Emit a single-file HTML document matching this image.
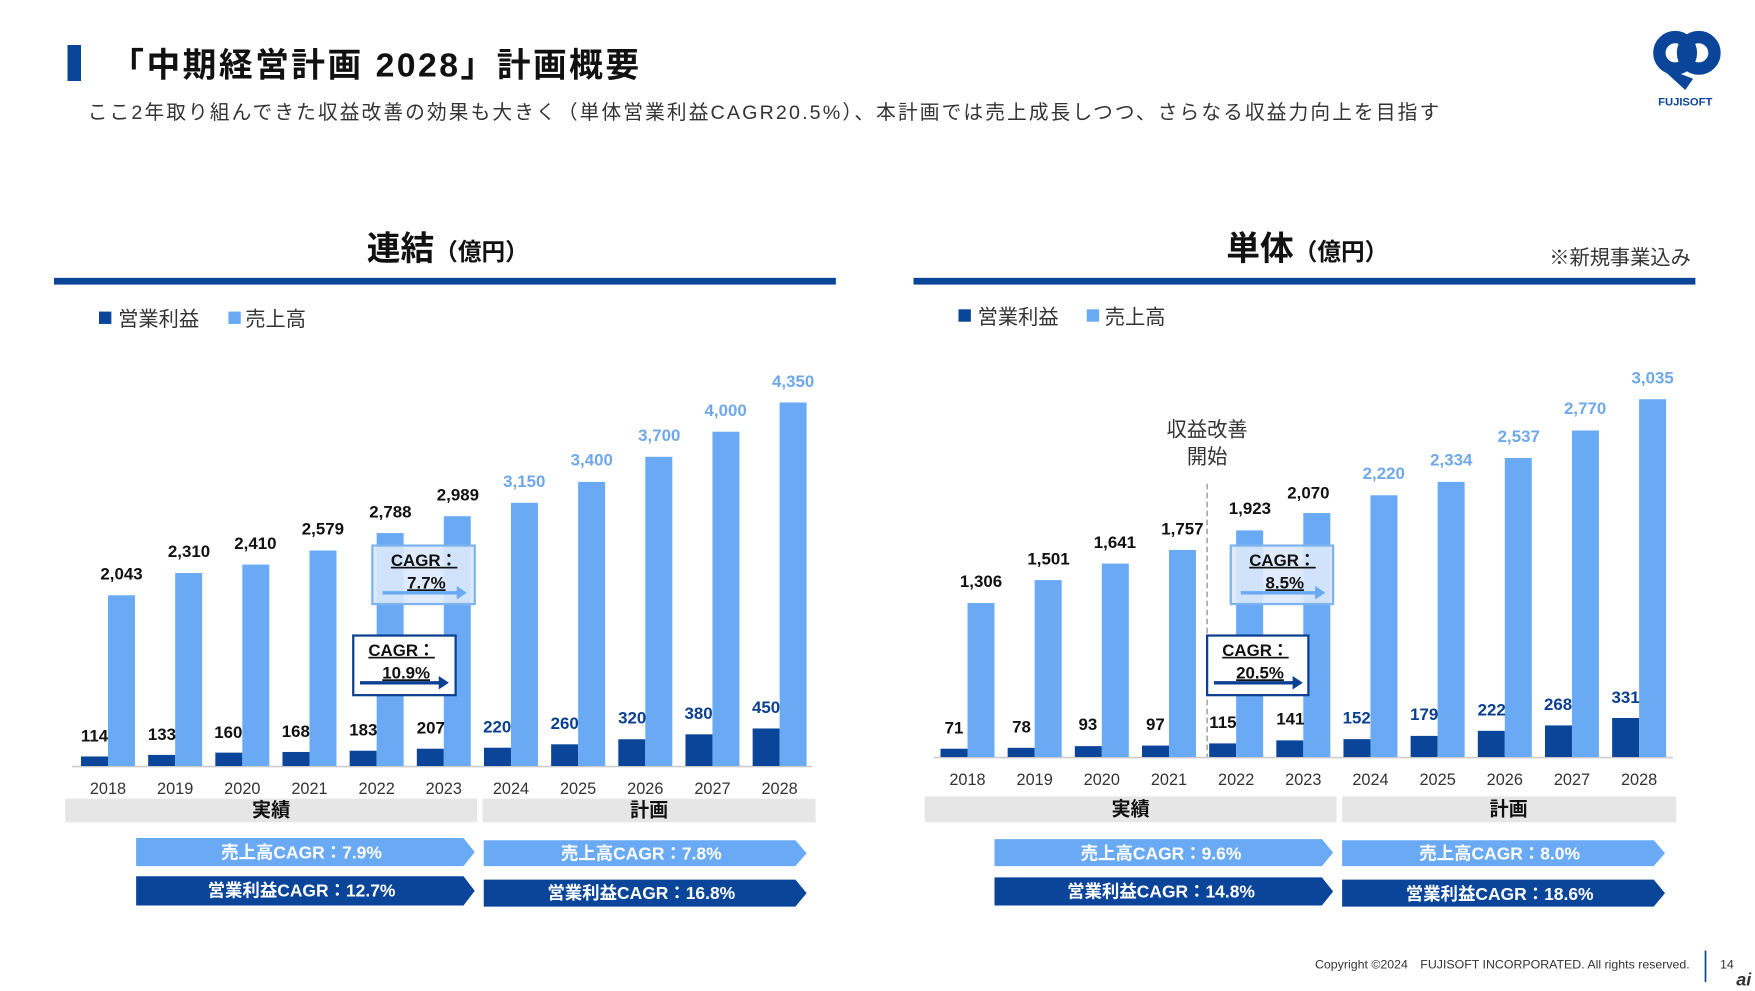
<!DOCTYPE html>
<html><head><meta charset="utf-8"><style>
html,body{margin:0;padding:0;background:#fff;}
svg{display:block;}
text{font-family:"Liberation Sans","Noto Sans CJK JP",sans-serif;}
.v{font-size:15px;font-weight:bold;text-anchor:middle;}
.k{fill:#111;} .lb{fill:#6fa8ea;} .db{fill:#0b3f8f;}
.yr{font-size:14.5px;fill:#333;text-anchor:middle;}
.L{fill:#6aaaf5;} .D{fill:#0b4599;}
.at{font-size:15.5px;font-weight:bold;fill:#fff;text-anchor:middle;}
</style></head><body>
<svg width="1755" height="991" viewBox="0 0 1560 881" preserveAspectRatio="none">
<rect x="0" y="0" width="1560" height="881" fill="#fff"/>
<rect x="60" y="40" width="12" height="32" fill="#0b4599"/>
<text x="98" y="68" font-size="30" font-weight="bold" fill="#111" letter-spacing="2.2">「中期経営計画 2028」計画概要</text>
<text x="78" y="106" font-size="17.5" fill="#333" letter-spacing="1.9">ここ2年取り組んできた収益改善の効果も大きく（単体営業利益CAGR20.5%）、本計画では売上成長しつつ、さらなる収益力向上を目指す</text>
<g fill="none" stroke="#0b4599" stroke-width="11">
<circle cx="1489" cy="47" r="14"/><circle cx="1510" cy="47" r="14"/>
</g>
<path d="M1474 58 L1498 80 L1505 70 Z" fill="#0b4599"/>
<text x="1498" y="94" font-size="10" font-weight="bold" fill="#0b4599" text-anchor="middle">FUJISOFT</text>

<text x="398" y="231" font-size="30" font-weight="bold" fill="#111" text-anchor="middle">連結<tspan font-size="21">（億円）</tspan></text>
<rect x="48" y="247" width="695" height="6" fill="#0b4599"/>
<rect x="88" y="277" width="11" height="11" class="D"/><text x="105" y="290" font-size="18" fill="#333">営業利益</text>
<rect x="203" y="277" width="11" height="11" class="L"/><text x="218" y="290" font-size="18" fill="#333">売上高</text>

<line x1="64" y1="681.5" x2="722" y2="681.5" stroke="#ccc" stroke-width="1.5"/>
<g>
<rect x="72" y="672.5" width="24" height="8.5" class="D"/><rect x="96" y="529.2" width="24" height="151.8" class="L"/>
<rect x="131.7" y="671.1" width="24" height="9.9" class="D"/><rect x="155.7" y="509.4" width="24" height="171.6" class="L"/>
<rect x="191.4" y="669.1" width="24" height="11.9" class="D"/><rect x="215.4" y="501.9" width="24" height="179.1" class="L"/>
<rect x="251.1" y="668.5" width="24" height="12.5" class="D"/><rect x="275.1" y="489.4" width="24" height="191.6" class="L"/>
<rect x="310.8" y="667.4" width="24" height="13.6" class="D"/><rect x="334.8" y="473.9" width="24" height="207.1" class="L"/>
<rect x="370.5" y="665.6" width="24" height="15.4" class="D"/><rect x="394.5" y="458.9" width="24" height="222.1" class="L"/>
<rect x="430.2" y="664.7" width="24" height="16.3" class="D"/><rect x="454.2" y="447" width="24" height="234" class="L"/>
<rect x="489.9" y="661.7" width="24" height="19.3" class="D"/><rect x="513.9" y="428.4" width="24" height="252.6" class="L"/>
<rect x="549.6" y="657.2" width="24" height="23.8" class="D"/><rect x="573.6" y="406.1" width="24" height="274.9" class="L"/>
<rect x="609.3" y="652.8" width="24" height="28.2" class="D"/><rect x="633.3" y="383.8" width="24" height="297.2" class="L"/>
<rect x="669" y="647.6" width="24" height="33.4" class="D"/><rect x="693" y="357.8" width="24" height="323.2" class="L"/>
</g>
<g class="v">
<text x="108" y="515" class="k">2,043</text><text x="84" y="659" class="k">114</text>
<text x="168" y="495" class="k">2,310</text><text x="144" y="658" class="k">133</text>
<text x="227" y="488" class="k">2,410</text><text x="203" y="656" class="k">160</text>
<text x="287" y="475" class="k">2,579</text><text x="263" y="655" class="k">168</text>
<text x="347" y="460" class="k">2,788</text><text x="323" y="654" class="k">183</text>
<text x="407" y="445" class="k">2,989</text><text x="383" y="652" class="k">207</text>
<text x="466" y="433" class="lb">3,150</text><text x="442" y="651" class="db">220</text>
<text x="526" y="414" class="lb">3,400</text><text x="502" y="648" class="db">260</text>
<text x="586" y="392" class="lb">3,700</text><text x="562" y="643" class="db">320</text>
<text x="645" y="370" class="lb">4,000</text><text x="621" y="639" class="db">380</text>
<text x="705" y="344" class="lb">4,350</text><text x="681" y="634" class="db">450</text>
</g>
<g class="yr">
<text x="96" y="706">2018</text><text x="155.7" y="706">2019</text><text x="215.4" y="706">2020</text><text x="275.1" y="706">2021</text><text x="334.8" y="706">2022</text><text x="394.5" y="706">2023</text><text x="454.2" y="706">2024</text><text x="513.9" y="706">2025</text><text x="573.6" y="706">2026</text><text x="633.3" y="706">2027</text><text x="693" y="706">2028</text>
</g>
<rect x="331" y="485" width="91" height="52" fill="#dbe9fb" fill-opacity="0.9" stroke="#7fb3f0" stroke-width="2"/>
<text x="377" y="503" font-size="15" font-weight="bold" fill="#111" text-anchor="middle" text-decoration="underline">CAGR：</text>
<text x="379" y="523" font-size="15" font-weight="bold" fill="#111" text-anchor="middle" text-decoration="underline">7.7%</text>
<line x1="340" y1="527" x2="408" y2="527" stroke="#6aaaf5" stroke-width="3"/><path d="M406 521 L415 527 L406 533 Z" fill="#6aaaf5"/>
<rect x="314" y="565" width="91" height="53" fill="#fff" stroke="#0b3f8f" stroke-width="2"/>
<text x="357" y="583" font-size="15" font-weight="bold" fill="#111" text-anchor="middle" text-decoration="underline">CAGR：</text>
<text x="361" y="603" font-size="15" font-weight="bold" fill="#111" text-anchor="middle" text-decoration="underline">10.9%</text>
<line x1="320" y1="607" x2="392" y2="607" stroke="#0b3f8f" stroke-width="3"/><path d="M390 601 L399 607 L390 613 Z" fill="#0b3f8f"/>
<rect x="58" y="710" width="366" height="21" fill="#e6e6e6"/><text x="241" y="726" font-size="17" font-weight="bold" text-anchor="middle" fill="#111">実績</text>
<rect x="429" y="710" width="296" height="21" fill="#e6e6e6"/><text x="577" y="726" font-size="17" font-weight="bold" text-anchor="middle" fill="#111">計画</text>
<polygon points="121,745 412,745 422,757.5 412,770 121,770" fill="#6aaaf5"/><text x="268" y="763" class="at">売上高CAGR：7.9%</text>
<polygon points="121,779 412,779 422,792 412,805 121,805" fill="#0b4599"/><text x="268" y="797" class="at">営業利益CAGR：12.7%</text>
<polygon points="430,747 707,747 717,758.5 707,770 430,770" fill="#6aaaf5"/><text x="570" y="764" class="at">売上高CAGR：7.8%</text>
<polygon points="430,782 707,782 717,794 707,806 430,806" fill="#0b4599"/><text x="570" y="799" class="at">営業利益CAGR：16.8%</text>

<text x="1162" y="231" font-size="30" font-weight="bold" fill="#111" text-anchor="middle">単体<tspan font-size="21">（億円）</tspan></text>
<text x="1503" y="235" font-size="18" fill="#333" text-anchor="end">※新規事業込み</text>
<rect x="812" y="247" width="695" height="6" fill="#0b4599"/>
<rect x="852" y="275" width="11" height="11" class="D"/><text x="869" y="288" font-size="18" fill="#333">営業利益</text>
<rect x="966" y="275" width="11" height="11" class="L"/><text x="982" y="288" font-size="18" fill="#333">売上高</text>
<line x1="1073" y1="430" x2="1073" y2="673" stroke="#aaa" stroke-width="1.5" stroke-dasharray="5,3"/>
<text x="1073" y="388" font-size="18" fill="#333" text-anchor="middle">収益改善</text>
<text x="1073" y="412" font-size="18" fill="#333" text-anchor="middle">開始</text>
<line x1="830" y1="673.5" x2="1487" y2="673.5" stroke="#ccc" stroke-width="1.5"/>
<g>
<rect x="836" y="665.6" width="24" height="7.4" class="D"/><rect x="860" y="536.1" width="24" height="136.9" class="L"/>
<rect x="895.7" y="664.8" width="24" height="8.2" class="D"/><rect x="919.7" y="515.7" width="24" height="157.3" class="L"/>
<rect x="955.4" y="663.3" width="24" height="9.7" class="D"/><rect x="979.4" y="501" width="24" height="172" class="L"/>
<rect x="1015.1" y="662.8" width="24" height="10.2" class="D"/><rect x="1039.1" y="488.9" width="24" height="184.1" class="L"/>
<rect x="1074.8" y="660.9" width="24" height="12.1" class="D"/><rect x="1098.8" y="471.5" width="24" height="201.5" class="L"/>
<rect x="1134.5" y="658.2" width="24" height="14.8" class="D"/><rect x="1158.5" y="456.1" width="24" height="216.9" class="L"/>
<rect x="1194.2" y="657.1" width="24" height="15.9" class="D"/><rect x="1218.2" y="440.3" width="24" height="232.7" class="L"/>
<rect x="1253.9" y="654.2" width="24" height="18.8" class="D"/><rect x="1277.9" y="428.4" width="24" height="244.6" class="L"/>
<rect x="1313.6" y="649.7" width="24" height="23.3" class="D"/><rect x="1337.6" y="407.1" width="24" height="265.9" class="L"/>
<rect x="1373.3" y="644.9" width="24" height="28.1" class="D"/><rect x="1397.3" y="382.7" width="24" height="290.3" class="L"/>
<rect x="1433" y="638.3" width="24" height="34.7" class="D"/><rect x="1457" y="354.9" width="24" height="318.1" class="L"/>
</g>
<g class="v">
<text x="872" y="522" class="k">1,306</text><text x="848" y="652" class="k">71</text>
<text x="932" y="502" class="k">1,501</text><text x="908" y="651" class="k">78</text>
<text x="991" y="487" class="k">1,641</text><text x="967" y="649" class="k">93</text>
<text x="1051" y="475" class="k">1,757</text><text x="1027" y="649" class="k">97</text>
<text x="1111" y="457" class="k">1,923</text><text x="1087" y="647" class="k">115</text>
<text x="1163" y="443" class="k">2,070</text><text x="1147" y="644" class="k">141</text>
<text x="1230" y="426" class="lb">2,220</text><text x="1206" y="643" class="db">152</text>
<text x="1290" y="414" class="lb">2,334</text><text x="1266" y="640" class="db">179</text>
<text x="1350" y="393" class="lb">2,537</text><text x="1326" y="636" class="db">222</text>
<text x="1409" y="368" class="lb">2,770</text><text x="1385" y="631" class="db">268</text>
<text x="1469" y="341" class="lb">3,035</text><text x="1445" y="625" class="db">331</text>
</g>
<g class="yr">
<text x="860" y="698">2018</text><text x="919.7" y="698">2019</text><text x="979.4" y="698">2020</text><text x="1039.1" y="698">2021</text><text x="1098.8" y="698">2022</text><text x="1158.5" y="698">2023</text><text x="1218.2" y="698">2024</text><text x="1277.9" y="698">2025</text><text x="1337.6" y="698">2026</text><text x="1397.3" y="698">2027</text><text x="1457" y="698">2028</text>
</g>
<rect x="1094" y="485" width="91" height="52" fill="#dbe9fb" fill-opacity="0.9" stroke="#7fb3f0" stroke-width="2"/>
<text x="1140" y="503" font-size="15" font-weight="bold" fill="#111" text-anchor="middle" text-decoration="underline">CAGR：</text>
<text x="1142" y="523" font-size="15" font-weight="bold" fill="#111" text-anchor="middle" text-decoration="underline">8.5%</text>
<line x1="1103" y1="527" x2="1171" y2="527" stroke="#6aaaf5" stroke-width="3"/><path d="M1169 521 L1178 527 L1169 533 Z" fill="#6aaaf5"/>
<rect x="1073" y="565" width="90" height="53" fill="#fff" stroke="#0b3f8f" stroke-width="2"/>
<text x="1116" y="583" font-size="15" font-weight="bold" fill="#111" text-anchor="middle" text-decoration="underline">CAGR：</text>
<text x="1120" y="603" font-size="15" font-weight="bold" fill="#111" text-anchor="middle" text-decoration="underline">20.5%</text>
<line x1="1079" y1="607" x2="1151" y2="607" stroke="#0b3f8f" stroke-width="3"/><path d="M1149 601 L1158 607 L1149 613 Z" fill="#0b3f8f"/>
<rect x="822" y="708" width="366" height="23" fill="#e6e6e6"/><text x="1005" y="725" font-size="17" font-weight="bold" text-anchor="middle" fill="#111">実績</text>
<rect x="1193" y="708" width="297" height="23" fill="#e6e6e6"/><text x="1341" y="725" font-size="17" font-weight="bold" text-anchor="middle" fill="#111">計画</text>
<polygon points="884,746 1175,746 1185,758 1175,770 884,770" fill="#6aaaf5"/><text x="1032" y="764" class="at">売上高CAGR：9.6%</text>
<polygon points="884,780 1175,780 1185,792.5 1175,805 884,805" fill="#0b4599"/><text x="1032" y="798" class="at">営業利益CAGR：14.8%</text>
<polygon points="1193,747 1470,747 1480,758.5 1470,770 1193,770" fill="#6aaaf5"/><text x="1333" y="764" class="at">売上高CAGR：8.0%</text>
<polygon points="1193,782 1470,782 1480,794 1470,806 1193,806" fill="#0b4599"/><text x="1333" y="800" class="at">営業利益CAGR：18.6%</text>

<text x="1502" y="861" font-size="11" fill="#333" text-anchor="end">Copyright ©2024　FUJISOFT INCORPORATED. All rights reserved.</text>
<line x1="1516" y1="845" x2="1516" y2="873" stroke="#0b4599" stroke-width="1.5"/>
<text x="1535" y="861" font-size="11" fill="#333" text-anchor="middle">14</text>
<text x="1550" y="876" font-size="16" font-style="italic" font-weight="bold" fill="#333" text-anchor="middle">ai</text>
</svg>
</body></html>
